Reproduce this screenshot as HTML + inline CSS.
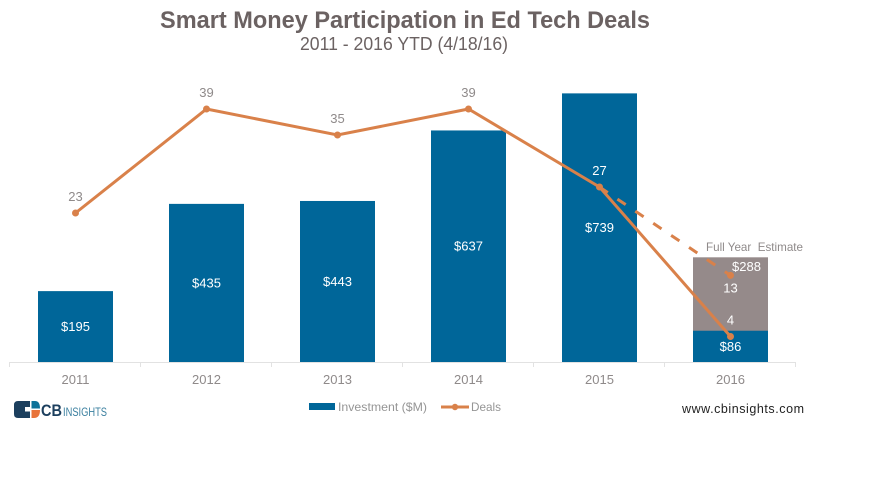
<!DOCTYPE html>
<html>
<head>
<meta charset="utf-8">
<title>Smart Money Participation in Ed Tech Deals</title>
<style>
html,body{margin:0;padding:0;background:#fff;}
svg{display:block;font-family:"Liberation Sans",sans-serif;}
</style>
</head>
<body>
<svg id="chart" width="872" height="479" viewBox="0 0 872 479" xmlns="http://www.w3.org/2000/svg">
  <rect width="872" height="479" fill="#fff"/>
  <text x="160" y="28" font-size="24" font-weight="bold" fill="#6b6262" textLength="490" lengthAdjust="spacingAndGlyphs">Smart Money Participation in Ed Tech Deals</text>
  <text x="300" y="50" font-size="18" fill="#6b6262" textLength="208" lengthAdjust="spacingAndGlyphs">2011 - 2016 YTD (4/18/16)</text>
  <g id="plot"></g>
  <g>
    <rect x="309" y="403" width="26" height="7" fill="#006699"/>
    <text x="338" y="411" font-size="12" fill="#959595" textLength="89" lengthAdjust="spacingAndGlyphs">Investment ($M)</text>
    <line x1="441" y1="407" x2="469" y2="407" stroke="#d9814a" stroke-width="3"/>
    <circle cx="455" cy="407" r="3.2" fill="#d9814a"/>
    <text x="471" y="411" font-size="12" fill="#959595" textLength="30" lengthAdjust="spacingAndGlyphs">Deals</text>
  </g>
  <g>
    <path d="M18 401H30V407H25V411.500H30V418H18Q14 418 14 414V405Q14 401 18 401Z" fill="#1c3f5e"/>
    <path d="M31.500 401H35Q40 401 40 408.500H31.500Z" fill="#0d7299"/>
    <path d="M31.500 410H40Q40 418 34 418H31.500Z" fill="#e8743b"/>
    <text x="41" y="416" font-size="17" font-weight="bold" fill="#1c3f5e" textLength="21" lengthAdjust="spacingAndGlyphs">CB</text>
    <text x="63" y="416" font-size="12" fill="#3a7f9f" textLength="44" lengthAdjust="spacingAndGlyphs">INSIGHTS</text>
  </g>
  <text x="682" y="413" font-size="12.500" fill="#222" textLength="122" lengthAdjust="spacing">www.cbinsights.com</text>
</svg>
<script>
var categories = ['2011', '2012', '2013', '2014', '2015', '2016'];
var investment = [195, 435, 443, 637, 739, 86];
var investmentEstimate = [288];
var deals = [23, 39, 35, 39, 27, 4];
var dealsEstimate = [27, 13.4];
var dealsEstimateLabel = ['13'];
var estimateNote = ['Full Year  Estimate'];

var SVGNS = 'http://www.w3.org/2000/svg';
var plot = document.getElementById('plot');
var left = 10, bandWidth = 131, barWidth = 75, baseline = 362;

function xCenter(i) { return left + bandWidth * i + bandWidth / 2; }
function yBar(v) { return baseline - v * 0.3635; }
function yDeal(v) { return baseline + 0.5 - v * 6.5; }
function make(tag, attrs) {
  var el = document.createElementNS(SVGNS, tag);
  for (var k in attrs) { el.setAttribute(k, attrs[k]); }
  plot.appendChild(el);
  return el;
}
function label(str, x, y, fill, size) {
  var t = make('text', { x: x, y: y, fill: fill, 'font-size': size, 'text-anchor': 'middle' });
  t.textContent = str;
  return t;
}

// estimate bar, behind the 2016 bar
var last = categories.length - 1;
var estBar = make('rect', { x: xCenter(last) - barWidth / 2, y: yBar(investmentEstimate[0]), width: barWidth, height: baseline - yBar(investmentEstimate[0]), fill: '#958a8a' });



// bars
investment.forEach(function (v, i) {
  var bar = make('rect', { x: xCenter(i) - barWidth / 2, y: yBar(v), width: barWidth, height: baseline - yBar(v), fill: '#006699' });
  
  
});

// axis
var axis = make('line', { x1: left - 0.5, y1: baseline + 0.5, x2: left + bandWidth * categories.length, y2: baseline + 0.5, stroke: '#e2e2e2', 'stroke-width': 1 });


for (var t = 0; t <= categories.length; t++) {
  var tick = make('line', { x1: left + bandWidth * t - 0.5, y1: baseline, x2: left + bandWidth * t - 0.5, y2: baseline + 5, stroke: '#e2e2e2', 'stroke-width': 1 });
  
  
}
categories.forEach(function (c, i) {
  var tl = label(c, xCenter(i), 384, '#8f8a8a', 13);
  
  
});

// dashed estimate line
var dash = make('line', { x1: xCenter(last - 1), y1: yDeal(dealsEstimate[0]), x2: xCenter(last), y2: yDeal(dealsEstimate[1]), stroke: '#d9814a', 'stroke-width': 3, 'stroke-dasharray': '10 11.6' });


var dashDot = make('circle', { cx: xCenter(last), cy: yDeal(dealsEstimate[1]), r: 3.5, fill: '#d9814a' });



// deals line
var line = make('polyline', { points: deals.map(function (d, i) { return xCenter(i) + ',' + yDeal(d); }).join(' '), fill: 'none', stroke: '#d9814a', 'stroke-width': 3 });


deals.forEach(function (d, i) {
  var pt = make('circle', { cx: xCenter(i), cy: yDeal(d), r: 3.5, fill: '#d9814a' });
  
  
});

// investment value labels
investment.forEach(function (v, i) {
  var vl = label('$' + v, xCenter(i), (yBar(v) + baseline) / 2 + 4.500, '#fff', 13);
  
  
});

// deals value labels
deals.forEach(function (d, i) {
  var onBar = i >= 4;
  var dl = label(String(d), xCenter(i), yDeal(d) - 12, onBar ? '#fff' : '#8f8a8a', 13);
  
  
});

// estimate labels
var estVal = label('$' + investmentEstimate[0], xCenter(last) + 16, yBar(investmentEstimate[0]) + 13.500, '#fff', 13);


var estDeals = label(dealsEstimateLabel[0], xCenter(last), yDeal(dealsEstimate[1]) + 17, '#fff', 13);


var note = make('text', { x: 706, y: 251, fill: '#8f8a8a', 'font-size': 12, textLength: 97, lengthAdjust: 'spacingAndGlyphs', style: 'white-space:pre' });
note.textContent = estimateNote[0];


</script>
</body>
</html>
